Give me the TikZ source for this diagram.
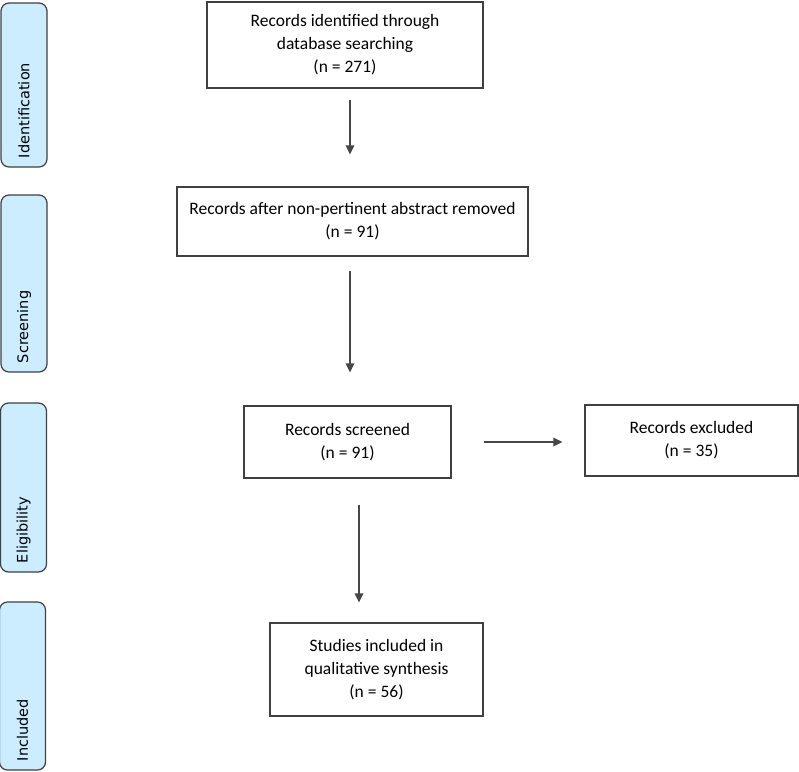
\documentclass[tikz,border=0pt]{standalone}
\usepackage{fontspec}
\setmainfont{Carlito}
\newfontfamily\phasefont{DejaVu Sans}
\usetikzlibrary{arrows.meta}
\definecolor{phaseblue}{RGB}{204,236,255}

\begin{document}
\begin{tikzpicture}[x=1pt,y=-1pt,
	box/.style={draw=black!75,line width=1.2pt,align=center,inner sep=0pt,font=\fontsize{17.5}{23}\selectfont},
	phase/.style={draw=black!75,fill=phaseblue,line width=1.2pt,rounded corners=8pt,rotate=90,
		inner xsep=9pt,inner ysep=0pt,text width=#1-18pt,minimum height=46pt,align=left,
		font=\phasefont\fontsize{14.5}{17}\selectfont},
	arr/.style={draw=black!72,line width=1.3pt,-{Triangle[length=9pt,width=8.5pt]}}]
		\useasboundingbox (0,0) rectangle (799,771);
		% phases
		\node[phase=164] (idf) at (24,85) {Identification};
		\node[phase=177] (scr) at (24,283.5) {Screening};
		\node[phase=169] (elg) at (23.5,487.5) {Eligibility};
		\node[phase=168] (inc) at (22.5,686) {Included};
		% boxes
		\node[box,minimum width=276,minimum height=86] (b1) at (345,45) {Records identified through\\database searching\\(n = 271)};
		\node[box,minimum width=351,minimum height=69] (b2) at (352.5,221.5) {Records after non-pertinent abstract removed\\(n = 91)};
		\node[box,minimum width=207,minimum height=72] (b3) at (347.5,442) {Records screened\\(n = 91)};
		\node[box,minimum width=213,minimum height=71] (b4) at (691.5,440.5) {Records excluded\\(n = 35)};
		\node[box,minimum width=213,minimum height=93] (b5) at (376.5,669.5) {Studies included in\\qualitative synthesis\\(n = 56)};
		% arrows
		\coordinate (colA) at (350,0);
		\coordinate (colB) at (359,0);
		\draw[arr,shorten <=11pt,shorten >=32pt] (b1.south -| colA) -- (b2.north -| colA);
		\draw[arr,shorten <=14pt,shorten >=33pt] (b2.south -| colA) -- (b3.north -| colA);
		\draw[arr,shorten <=26pt,shorten >=20pt] (b3.south -| colB) -- (b5.north -| colB);
		\draw[arr,shorten <=32pt,shorten >=22pt] (b3.east) -- (b3.east -| b4.west);
\end{tikzpicture}
\end{document}
